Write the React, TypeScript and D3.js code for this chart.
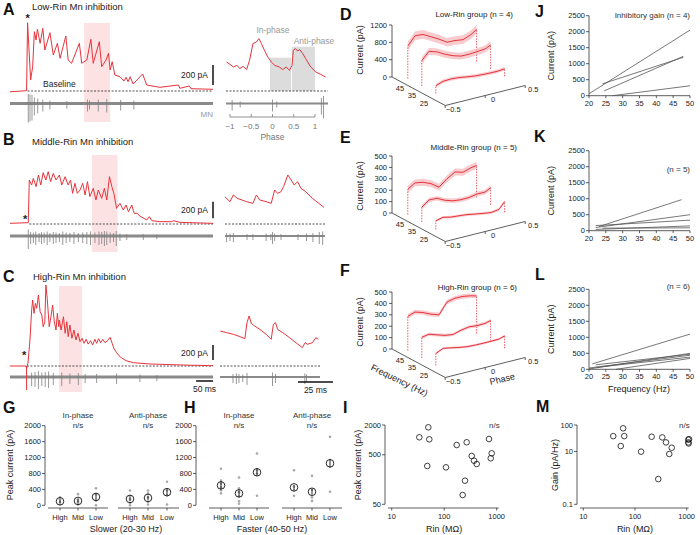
import React from "react";
import * as d3 from "d3";

const FONT = "'Liberation Sans', Arial, Helvetica, sans-serif";
const RED = "#e6343c";
const RED_LIGHT = "#f6b9bd";
const PINK = "#fde2e4";
const MNGRAY = "#8a8a8a";
const AX = "#333";

// ---------- A–C main traces: time (ms) and current (pA) ----------
const A_T = [0, 49, 52, 61, 67, 72, 77, 81, 89, 97, 103, 118, 128, 140, 148, 165, 172, 182, 205, 212, 227, 239, 246, 264, 271, 284, 291, 296, 302, 310, 325, 337, 343, 349, 355, 364, 392, 404, 443, 498, 502, 530, 535, 600];
const A_I = [-8, 3, 683, 110, 243, 593, 510, 617, 477, 627, 410, 583, 360, 477, 327, 550, 310, 277, 477, 277, 310, 517, 277, 493, 243, 310, 377, 210, 293, 160, 143, 100, 137, 93, 143, 70, 170, 60, 37, 60, 27, 50, 23, 17];
const B_T = [0, 54, 57, 64, 69, 77, 84, 91, 98, 106, 113, 120, 128, 136, 146, 153, 163, 172, 179, 185, 192, 199, 207, 215, 222, 229, 236, 246, 254, 261, 271, 279, 286, 294, 301, 307, 315, 325, 335, 343, 350, 360, 367, 375, 384, 404, 412, 419, 443, 478, 483, 502, 601];
const B_I = [8, 16, 528, 468, 548, 448, 588, 468, 616, 528, 628, 508, 608, 528, 588, 468, 568, 468, 528, 368, 488, 368, 408, 488, 348, 508, 328, 428, 288, 408, 308, 428, 288, 568, 448, 368, 188, 248, 168, 228, 148, 228, 128, 128, 96, 48, 88, 40, 28, 28, 40, 20, 8];
const C_T = [0, 47, 49, 53, 59, 64, 67, 71, 75, 79, 84, 89, 94, 98, 103, 106, 110, 116, 121, 126, 131, 136, 140, 144, 146, 151, 158, 163, 168, 172, 177, 183, 189, 195, 201, 207, 213, 219, 225, 231, 238, 244, 251, 256, 262, 268, 274, 281, 288, 296, 302, 307, 315, 327, 343, 365, 414, 512, 601];
const C_I = [0, 0, -31, 36, 347, 746, 880, 702, 836, 769, 946, 724, 680, 524, 591, 1080, 902, 524, 657, 813, 591, 480, 702, 524, 613, 480, 657, 436, 591, 391, 547, 369, 480, 347, 436, 324, 369, 302, 356, 293, 337, 280, 356, 302, 364, 311, 356, 311, 337, 382, 302, 236, 177, 116, 71, 44, 27, 13, 4];

// insets: phase and current (pA)
const AI_P = [-1.08, -1.0, -0.92, -0.84, -0.77, -0.69, -0.61, -0.54, -0.46, -0.38, -0.32, -0.26, -0.19, -0.11, -0.03, 0.05, 0.16, 0.24, 0.32, 0.4, 0.46, 0.49, 0.54, 0.59, 0.64, 0.71, 0.78, 0.9, 1.02, 1.13, 1.25];
const AI_I = [290, 267, 240, 257, 224, 247, 214, 307, 474, 490, 524, 474, 407, 340, 290, 257, 240, 214, 240, 207, 257, 407, 424, 400, 414, 374, 324, 240, 190, 167, 140];
const BI_P = [-1.12, -1.0, -0.92, -0.83, -0.61, -0.46, -0.38, -0.3, -0.15, -0.03, 0.05, 0.12, 0.2, 0.26, 0.36, 0.44, 0.51, 0.59, 0.67, 0.78, 0.94, 1.09, 1.21];
const BI_I = [327, 268, 348, 308, 268, 248, 348, 288, 268, 248, 408, 368, 388, 448, 588, 528, 468, 508, 428, 388, 308, 248, 200];
const CI_P = [-1.23, -1.08, -0.92, -0.77, -0.65, -0.6, -0.55, -0.5, -0.42, -0.3, -0.15, -0.03, 0.02, 0.07, 0.12, 0.24, 0.4, 0.55, 0.7, 0.77, 0.82, 0.94, 1.02, 1.08];
const CI_I = [467, 445, 423, 392, 365, 579, 667, 569, 533, 489, 423, 356, 556, 579, 489, 445, 378, 311, 245, 311, 289, 311, 378, 356];

// shaded windows (ms) and inset phase boxes
const SHADE_A = [219, 296];
const SHADE_B = [242, 318];
const SHADE_C = [145, 213];
const BOX_P0 = [-0.06, 0.46];
const BOX_P1 = [0.44, 1.0];
const BOX_PA = [333, 443];
const PHASE_TICKS = [-1, -0.5, 0, 0.5, 1];

// MN spikes: time (ms) / phase and amplitude (a.u.)
const MN_A_T = [54, 59, 65, 72, 82, 97, 118, 168, 229, 235, 261, 286, 327, 366];
const MN_A_AMP = [190, 180, 170, 120, 100, 80, 60, 50, 80, 60, 80, 90, 70, 60];
const MN_B_T = [54, 61, 69, 76, 86, 93, 101, 110, 118, 128, 136, 146, 156, 166, 177, 189, 202, 215, 227, 238, 251, 263, 271, 279, 286, 296, 306, 314, 325, 345, 394, 434];
const MN_B_AMP = [130, 80, 70, 90, 60, 80, 70, 90, 60, 80, 70, 60, 90, 70, 60, 80, 60, 70, 80, 90, 70, 90, 80, 100, 90, 70, 60, 100, 50, 40, 40, 30];
const MN_C_T = [64, 74, 84, 94, 104, 114, 128, 153, 177, 202, 222, 256, 315, 384, 434];
const MN_C_AMP = [90, 100, 120, 90, 100, 110, 80, 90, 70, 80, 60, 60, 70, 50, 40];
const MNI_A_P = [-0.95, -0.76, 0.0, 0.1, 1.15, 1.2];
const MNI_A_AMP = [70, 40, 80, 40, 110, 150];
const MNI_B_P = [-1.08, -1.0, -0.92, -0.6, -0.46, -0.15, -0.04, 0.0, 0.05, 0.2, 0.6, 0.8, 0.95, 1.1, 1.18];
const MNI_B_AMP = [60, 50, 60, 40, 40, 50, 40, 80, 50, 40, 40, 50, 60, 80, 90];
const MNI_C_P = [-0.93, -0.85, -0.79, -0.7, -0.6, 0.0, 0.07, 0.76, 0.8];
const MNI_C_AMP = [60, 70, 60, 50, 80, 90, 60, 70, 50];

// ---------- D–F 3D phase/frequency surfaces ----------
const PHASES = [-0.39, -0.3, -0.2, -0.1, 0, 0.1, 0.2, 0.3, 0.4, 0.47];
const FREQS = [45, 35, 25];
const D_45 = [750, 945, 930, 830, 730, 612, 605, 578, 650, 740];
const D_35 = [586, 760, 700, 600, 520, 465, 462, 475, 492, 550];
const D_25 = [180, 240, 250, 235, 205, 180, 168, 160, 160, 175];
const E_45 = [222, 262, 250, 220, 172, 228, 270, 250, 272, 280];
const E_35 = [130, 178, 175, 140, 118, 110, 112, 125, 124, 150];
const E_25 = [77, 92, 76, 70, 63, 50, 38, 28, 38, 95];
const F_45 = [300, 322, 300, 268, 245, 340, 356, 354, 342, 328];
const F_35 = [182, 193, 170, 148, 138, 158, 170, 163, 165, 178];
const F_25 = [105, 135, 122, 108, 97, 93, 92, 92, 93, 110];
const D_SEM = [100, 80, 40];
const E_SEM = [30, 20, 12];
const F_SEM = [20, 14, 10];
const D_TICKS = [0, 400, 800, 1200];
const EF_TICKS = [0, 100, 200, 300, 400, 500];

// ---------- J–L inhibitory gain lines ----------
const J_F0 = [20, 24, 24.5, 27];
const J_C0 = [60, 370, 150, 0];
const J_F1 = [50, 48, 48, 50];
const J_C1 = [2050, 1200, 1230, 310];
const K_F0 = [23, 22, 22, 22, 24];
const K_C0 = [130, 100, 160, 40, 80];
const K_F1 = [47.5, 50, 50, 50, 50];
const K_C1 = [970, 500, 330, 150, 90];
const L_F0 = [21, 20, 20, 22, 22, 28];
const L_C0 = [170, 10, 40, 60, 140, 0];
const L_F1 = [50, 50, 50, 50, 50, 50];
const L_C1 = [1100, 500, 440, 380, 470, 340];
const GAIN_YTICKS = [0, 500, 1000, 1500, 2000, 2500];
const GAIN_XTICKS = [20, 25, 30, 35, 40, 45, 50];

// ---------- G–H peak current ----------
const GROUPS = ["High", "Mid", "Low"];
const PEAK_TICKS = [0, 400, 800, 1200, 1600, 2000];
const G_IN_MEAN = [100, 110, 210];
const G_IN_SEM = [40, 45, 70];
const G_IN_DOTS = [[200, 150, 80, 30], [280, 150, 60, 20, 100], [430, 280, 120, 0]];
const G_AN_MEAN = [160, 185, 330];
const G_AN_SEM = [50, 55, 70];
const G_AN_DOTS = [[370, 230, 150, 60, 0], [370, 300, 200, 90, 20], [590, 380, 250, 20]];
const H_IN_MEAN = [500, 300, 830];
const H_IN_SEM = [90, 80, 90];
const H_IN_DOTS = [[920, 620, 540, 450, 380, 300], [700, 430, 330, 220, 100, 40], [1300, 880, 800, 240]];
const H_AN_MEAN = [450, 340, 1055];
const H_AN_SEM = [60, 70, 110];
const H_AN_DOTS = [[880, 470, 380, 240], [740, 390, 200, 110], [1720, 340]];

// ---------- I–M vs Rin ----------
const I_RIN = [33.6, 49.8, 52, 47.6, 108, 173, 268, 334, 370, 416, 249, 225, 713, 769, 803];
const I_PEAK = [1130, 1795, 1028, 297, 279, 788, 895, 473, 380, 326, 150, 77, 1042, 425, 536];
const M_RIN = [38, 59, 62, 53, 131, 210, 337, 398, 513, 460, 282, 1070, 1075, 1090, 1110];
const M_GAIN = [38, 75, 38, 16, 9.8, 36, 34, 22, 13.8, 8, 0.9, 28, 22, 20, 29];
const I_YTICKS = [50, 500, 2000];
const M_YTICKS = [0.1, 10, 100];
const RIN_TICKS = [10, 100, 1000];

// ---------- scales ----------
const xMain = d3.scaleLinear().domain([0, 600]).range([10, 213]);
const xInset = d3.scaleLinear().domain([-1, 1]).range([230, 315]);
const INSET_MS_PER_PHASE = 30.4;
const yA = d3.scaleLinear().domain([0, 700]).range([91, 21]);
const yB = d3.scaleLinear().domain([0, 600]).range([224, 174]);
const yC = d3.scaleLinear().domain([0, 1000]).range([366, 291]);
const MN_PX = 0.1;

const line = d3.line<[number, number]>().x((d) => d[0]).y((d) => d[1]);

function Spikes({ xs, amps, y0, color = "#7d7d7d" }: any) {
  return (
    <g stroke={color} strokeWidth={0.8}>
      {xs.map((x: number, k: number) => (
        <line key={k} x1={x} x2={x} y1={y0 - amps[k] * MN_PX * 0.5} y2={y0 + amps[k] * MN_PX} />
      ))}
    </g>
  );
}

function TracePanel(p: any) {
  const { t, i, y, shade, shadeTop, shadeBottom, mnY, mnT, mnAmp, ip, ii, mniP, mniAmp, dashT, inX0, inX1, bar0, starT, starPA, boxes } = p;
  const base = y(0);
  const main = line(t.map((tt: number, k: number) => [xMain(tt), y(i[k])] as [number, number]));
  const inset = line(ip.map((pp: number, k: number) => [xInset(pp), y(ii[k])] as [number, number]));
  return (
    <g>
      <rect x={xMain(shade[0])} y={shadeTop} width={xMain(shade[1]) - xMain(shade[0])} height={shadeBottom - shadeTop} fill={PINK} />
      {boxes &&
        BOX_P0.map((p0, k) => (
          <rect key={k} x={xInset(p0)} y={y(BOX_PA[k])} width={xInset(BOX_P1[k]) - xInset(p0)} height={base - y(BOX_PA[k])} fill="#dcdcdc" />
        ))}
      <line x1={xMain(dashT)} x2={xMain(600)} y1={base} y2={base} stroke="#222" strokeWidth={0.8} strokeDasharray="2,1.5" />
      <line x1={inX0} x2={inX1} y1={base} y2={base} stroke="#222" strokeWidth={0.8} strokeDasharray="2,1.5" />
      <line x1={10} x2={213} y1={mnY} y2={mnY} stroke={MNGRAY} strokeWidth={3} />
      <line x1={inX0} x2={inX1} y1={mnY} y2={mnY} stroke={MNGRAY} strokeWidth={2} />
      <Spikes xs={mnT.map((tt: number) => xMain(tt))} amps={mnAmp} y0={mnY} />
      <Spikes xs={mniP.map((pp: number) => xInset(pp))} amps={mniAmp} y0={mnY} />
      <path d={main || ""} fill="none" stroke={RED} strokeWidth={1} />
      <path d={inset || ""} fill="none" stroke={RED} strokeWidth={1} />
      <line x1={213} x2={213} y1={y(bar0)} y2={y(bar0 + 200)} stroke="#111" strokeWidth={1.5} />
      <text x={208} y={(y(bar0) + y(bar0 + 200)) / 2 + 3} textAnchor="end" fontSize={8.5} fill="#222">200 pA</text>
      <text x={xMain(starT)} y={y(starPA) + 5} textAnchor="middle" fontSize={11} fontWeight="bold" fill="#222">*</text>
    </g>
  );
}

function Surface(p: any) {
  const { oy, k, ticks, data, sems } = p;
  const proj = (ph: number, f: number, c: number): [number, number] => [
    392 + (ph + 0.5) * 80 + (50 - f) * 1.4,
    oy - (ph + 0.5) * 20 + (50 - f) * 0.75 - c * k,
  ];
  const back = proj(-0.5, 50, 0);
  const corner = proj(-0.5, 12, 0);
  const end = proj(0.5, 12, 0);
  const top = ticks[ticks.length - 1];
  return (
    <g>
      <line x1={392} x2={392} y1={oy} y2={oy - top * k} stroke={AX} strokeWidth={0.8} />
      {ticks.map((v: number) => (
        <g key={v}>
          <line x1={389} x2={392} y1={oy - v * k} y2={oy - v * k} stroke={AX} strokeWidth={0.8} />
          <text x={387} y={oy - v * k + 2.6} textAnchor="end" fontSize={7.5} fill="#222">{v}</text>
        </g>
      ))}
      <line x1={back[0]} y1={back[1]} x2={corner[0]} y2={corner[1]} stroke={AX} strokeWidth={0.8} />
      <line x1={corner[0]} y1={corner[1]} x2={end[0]} y2={end[1]} stroke={AX} strokeWidth={0.8} />
      {FREQS.map((f) => {
        const q = proj(-0.5, f, 0);
        return (
          <text key={f} x={q[0] + 1 - (45 - f) * 0.2} y={q[1] + 10} textAnchor="middle" fontSize={7.5} fill="#222">{f}</text>
        );
      })}
      {[-0.5, 0, 0.5].map((ph) => {
        const q = proj(ph, 12, 0);
        return (
          <g key={ph}>
            <line x1={q[0]} x2={q[0]} y1={q[1]} y2={q[1] + 2.5} stroke={AX} strokeWidth={0.8} />
            <text x={q[0] + 8} y={q[1] + 6} textAnchor="middle" fontSize={7.5} fill="#222">{ph === -0.5 ? "−0.5" : ph}</text>
          </g>
        );
      })}
      {FREQS.map((f, s) => {
        const vals: number[] = data[s];
        const up = PHASES.map((ph, j) => proj(ph, f, vals[j] + sems[s]));
        const lo = PHASES.map((ph, j) => proj(ph, f, Math.max(0, vals[j] - sems[s]))).reverse();
        const mid = PHASES.map((ph, j) => proj(ph, f, vals[j]));
        const n = PHASES.length - 1;
        const b0 = proj(PHASES[0], f, 0);
        const b1 = proj(PHASES[n], f, 0);
        return (
          <g key={f}>
            <path d={(line([...up, ...lo]) || "") + "Z"} fill={RED_LIGHT} opacity={0.75} />
            <path d={line(mid) || ""} fill="none" stroke={RED} strokeWidth={1} />
            <line x1={b0[0]} y1={b0[1]} x2={mid[0][0]} y2={mid[0][1]} stroke={RED} strokeWidth={0.8} strokeDasharray="1.5,1.2" />
            <line x1={b1[0]} y1={b1[1]} x2={mid[n][0]} y2={mid[n][1]} stroke={RED} strokeWidth={0.8} strokeDasharray="1.5,1.2" />
          </g>
        );
      })}
      <text transform={`translate(363,${oy - 27}) rotate(-90)`} textAnchor="middle" fontSize={9} fill="#222">Current (pA)</text>
    </g>
  );
}

function GainPanel({ oy, f0, c0, f1, c1, showX }: any) {
  const xs = d3.scaleLinear().domain([20, 50]).range([589, 690]);
  const ys = d3.scaleLinear().domain([0, 2500]).range([oy, oy - 80]);
  return (
    <g>
      <line x1={589} x2={589} y1={ys(0)} y2={ys(2500)} stroke={AX} strokeWidth={0.8} />
      <line x1={589} x2={690} y1={oy} y2={oy} stroke={AX} strokeWidth={0.8} />
      {GAIN_YTICKS.map((v) => (
        <g key={v}>
          <line x1={586} x2={589} y1={ys(v)} y2={ys(v)} stroke={AX} strokeWidth={0.8} />
          <text x={585} y={ys(v) + 2.6} textAnchor="end" fontSize={7.5} fill="#222">{v}</text>
        </g>
      ))}
      {GAIN_XTICKS.map((v) => (
        <g key={v}>
          <line x1={xs(v)} x2={xs(v)} y1={oy} y2={oy + 2.5} stroke={AX} strokeWidth={0.8} />
          <text x={xs(v)} y={oy + 10} textAnchor="middle" fontSize={7.5} fill="#222">{v}</text>
        </g>
      ))}
      {f0.map((f: number, k: number) => (
        <line key={k} x1={xs(f)} y1={ys(c0[k])} x2={xs(f1[k])} y2={ys(c1[k])} stroke="#555" strokeWidth={0.8} />
      ))}
      <text transform={`translate(554,${oy - 40}) rotate(-90)`} textAnchor="middle" fontSize={9} fill="#222">Current (pA)</text>
      {showX && <text x={639} y={oy + 23} textAnchor="middle" fontSize={9} fill="#222">Frequency (Hz)</text>}
    </g>
  );
}

const yPeak = d3.scaleLinear().domain([0, 2000]).range([505.3, 425.7]);

function PeakAxis({ x }: any) {
  return (
    <g>
      <line x1={x} x2={x} y1={yPeak(0)} y2={yPeak(2000)} stroke={AX} strokeWidth={0.8} />
      {PEAK_TICKS.map((v) => (
        <g key={v}>
          <line x1={x - 3} x2={x} y1={yPeak(v)} y2={yPeak(v)} stroke={AX} strokeWidth={0.8} />
          <text x={x - 4} y={yPeak(v) + 2.6} textAnchor="end" fontSize={7.5} fill="#222">{v}</text>
        </g>
      ))}
    </g>
  );
}

function DotGroup({ xs, means, sems, dots, title }: any) {
  return (
    <g>
      <text x={xs[1]} y={418} textAnchor="middle" fontSize={8} fill="#333">{title}</text>
      <text x={xs[1]} y={428} textAnchor="middle" fontSize={8} fill="#333">n/s</text>
      <line x1={xs[0] - 12} x2={xs[2] + 12} y1={508} y2={508} stroke={AX} strokeWidth={0.8} />
      {xs.map((x: number, k: number) => (
        <g key={k}>
          <line x1={x} x2={x} y1={508} y2={510.5} stroke={AX} strokeWidth={0.8} />
          <text x={x} y={520} textAnchor="middle" fontSize={7.5} fill="#222">{GROUPS[k]}</text>
          {dots[k].map((v: number, j: number) => (
            <circle key={j} cx={x} cy={yPeak(v)} r={1.3} fill="#a8a8a8" />
          ))}
          <line x1={x} x2={x} y1={yPeak(means[k] - sems[k])} y2={yPeak(means[k] + sems[k])} stroke="#111" strokeWidth={0.9} />
          <circle cx={x} cy={yPeak(means[k])} r={3.8} fill="none" stroke="#111" strokeWidth={0.9} />
        </g>
      ))}
    </g>
  );
}

function LogPanel({ axX, x0, x1, yDom, yTicks, rin, vals, ylabel, labX, tickFmt }: any) {
  const xs = d3.scaleLog().domain([10, 1000]).range([x0, x1]);
  const ys = d3.scaleLog().domain(yDom).range([504.3, 425]);
  return (
    <g>
      <line x1={axX} x2={axX} y1={504.3} y2={425} stroke={AX} strokeWidth={0.8} />
      {yTicks.map((v: number) => (
        <g key={v}>
          <line x1={axX - 3} x2={axX} y1={ys(v)} y2={ys(v)} stroke={AX} strokeWidth={0.8} />
          <text x={axX - 4} y={ys(v) + 2.6} textAnchor="end" fontSize={7.5} fill="#222">{tickFmt(v)}</text>
        </g>
      ))}
      <line x1={axX + 3} x2={x1 + 2} y1={508} y2={508} stroke={AX} strokeWidth={0.8} />
      {RIN_TICKS.map((v) => (
        <g key={v}>
          <line x1={xs(v)} x2={xs(v)} y1={508} y2={510.5} stroke={AX} strokeWidth={0.8} />
          <text x={xs(v)} y={519} textAnchor="middle" fontSize={7.5} fill="#222">{v}</text>
        </g>
      ))}
      {rin.map((r: number, k: number) => (
        <circle key={k} cx={xs(r)} cy={ys(vals[k])} r={2.8} fill="none" stroke="#111" strokeWidth={0.8} />
      ))}
      <text x={(x0 + x1) / 2} y={532} textAnchor="middle" fontSize={9} fill="#222">Rin (MΩ)</text>
      <text transform={`translate(${labX},465) rotate(-90)`} textAnchor="middle" fontSize={9} fill="#222">{ylabel}</text>
      <text x={x1 + 3} y={428} textAnchor="end" fontSize={8} fill="#333">n/s</text>
    </g>
  );
}

const LETTERS: [string, number, number][] = [
  ["A", 3, 15], ["B", 3, 145], ["C", 3, 282], ["D", 340, 20], ["E", 340, 143], ["F", 340, 276],
  ["G", 3, 413], ["H", 184, 413], ["I", 343, 413], ["J", 535, 17], ["K", 534, 142], ["L", 535, 280], ["M", 536, 412],
];

export default function App() {
  const fmtLog = (v: number) => String(v);
  return (
    <svg width={700} height={535} style={{ position: "absolute", left: 0, top: 0, background: "#fff" }} fontFamily={FONT}>
      {LETTERS.map(([s, x, y]) => (
        <text key={s} x={x} y={y} fontSize={16} fontWeight="bold" fill="#111">{s}</text>
      ))}
      <text x={32} y={10} fontSize={9.5} fill="#222">Low-Rin Mn inhibition</text>
      <text x={32} y={145} fontSize={9.5} fill="#222">Middle-Rin Mn inhibition</text>
      <text x={33} y={280} fontSize={9.5} fill="#222">High-Rin Mn inhibition</text>

      <TracePanel t={A_T} i={A_I} y={yA} shade={SHADE_A} shadeTop={23} shadeBottom={122} mnY={103.5} mnT={MN_A_T} mnAmp={MN_A_AMP}
        ip={AI_P} ii={AI_I} mniP={MNI_A_P} mniAmp={MNI_A_AMP} dashT={52} inX0={226} inX1={328} bar0={60} starT={52} starPA={740} boxes />
      <text x={43} y={87} fontSize={8.5} fill="#222">Baseline</text>
      <text x={213} y={117} textAnchor="end" fontSize={8} fill="#999">MN</text>
      <text x={273} y={33} textAnchor="middle" fontSize={8.5} fill="#999">In-phase</text>
      <text x={314} y={44} textAnchor="middle" fontSize={8.5} fill="#999">Anti-phase</text>
      <line x1={xInset(-1)} x2={xInset(1)} y1={117} y2={117} stroke="#777" strokeWidth={0.8} />
      {PHASE_TICKS.map((v) => (
        <g key={v}>
          <line x1={xInset(v)} x2={xInset(v)} y1={114} y2={117} stroke="#777" strokeWidth={0.8} />
          <text x={xInset(v)} y={129} textAnchor="middle" fontSize={8} fill="#777">{v < 0 ? "−" + Math.abs(v) : v}</text>
        </g>
      ))}
      <text x={xInset(0)} y={140} textAnchor="middle" fontSize={8.5} fill="#777">Phase</text>

      <TracePanel t={B_T} i={B_I} y={yB} shade={SHADE_B} shadeTop={155} shadeBottom={252} mnY={236} mnT={MN_B_T} mnAmp={MN_B_AMP}
        ip={BI_P} ii={BI_I} mniP={MNI_B_P} mniAmp={MNI_B_AMP} dashT={57} inX0={225} inX1={325} bar0={68} starT={45} starPA={70} />

      <TracePanel t={C_T} i={C_I} y={yC} shade={SHADE_C} shadeTop={286} shadeBottom={392} mnY={377} mnT={MN_C_T} mnAmp={MN_C_AMP}
        ip={CI_P} ii={CI_I} mniP={MNI_C_P} mniAmp={MNI_C_AMP} dashT={50} inX0={220} inX1={320} bar0={80} starT={42} starPA={160} />
      <line x1={xMain(49)} x2={xMain(49)} y1={366} y2={390} stroke={RED} strokeWidth={1} />
      <line x1={xMain(550)} x2={xMain(600)} y1={381} y2={381} stroke="#111" strokeWidth={1.5} />
      <text x={xMain(575)} y={392} textAnchor="middle" fontSize={8.5} fill="#222">50 ms</text>
      <line x1={xInset(0.6)} x2={xInset(0.6 + 25 / INSET_MS_PER_PHASE)} y1={382} y2={382} stroke="#111" strokeWidth={1.5} />
      <text x={xInset(0.6 + 12.5 / INSET_MS_PER_PHASE)} y={393} textAnchor="middle" fontSize={8.5} fill="#222">25 ms</text>

      <Surface oy={77} k={52 / 1200} ticks={D_TICKS} data={[D_45, D_35, D_25]} sems={D_SEM} />
      <text x={513} y={17} textAnchor="end" fontSize={8} fill="#222">Low-Rin group (n = 4)</text>
      <Surface oy={213} k={57 / 500} ticks={EF_TICKS} data={[E_45, E_35, E_25]} sems={E_SEM} />
      <text x={517} y={150} textAnchor="end" fontSize={8} fill="#222">Middle-Rin group (n = 5)</text>
      <Surface oy={349} k={57 / 500} ticks={EF_TICKS} data={[F_45, F_35, F_25]} sems={F_SEM} />
      <text x={517} y={290} textAnchor="end" fontSize={8} fill="#222">High-Rin group (n = 6)</text>
      <text transform="translate(398,383) rotate(26)" textAnchor="middle" fontSize={9} fill="#222">Frequency (Hz)</text>
      <text transform="translate(503,382) rotate(-14)" textAnchor="middle" fontSize={9} fill="#222">Phase</text>

      <GainPanel oy={95.7} f0={J_F0} c0={J_C0} f1={J_F1} c1={J_C1} />
      <text x={690} y={18} textAnchor="end" fontSize={8} fill="#333">Inhibitory gain (n = 4)</text>
      <GainPanel oy={230.7} f0={K_F0} c0={K_C0} f1={K_F1} c1={K_C1} />
      <text x={690} y={172} textAnchor="end" fontSize={8} fill="#333">(n = 5)</text>
      <GainPanel oy={369.3} f0={L_F0} c0={L_C0} f1={L_F1} c1={L_C1} showX />
      <text x={690} y={289} textAnchor="end" fontSize={8} fill="#333">(n = 6)</text>

      <PeakAxis x={45} />
      <DotGroup xs={[60, 78, 96]} means={G_IN_MEAN} sems={G_IN_SEM} dots={G_IN_DOTS} title="In-phase" />
      <DotGroup xs={[130, 148, 167]} means={G_AN_MEAN} sems={G_AN_SEM} dots={G_AN_DOTS} title="Anti-phase" />
      <text transform="translate(13,465) rotate(-90)" textAnchor="middle" fontSize={9} fill="#222">Peak current (pA)</text>
      <text x={126} y={532} textAnchor="middle" fontSize={9} fill="#222">Slower (20-30 Hz)</text>
      <PeakAxis x={196} />
      <DotGroup xs={[221, 239, 257]} means={H_IN_MEAN} sems={H_IN_SEM} dots={H_IN_DOTS} title="In-phase" />
      <DotGroup xs={[294, 312, 330]} means={H_AN_MEAN} sems={H_AN_SEM} dots={H_AN_DOTS} title="Anti-phase" />
      <text x={272} y={532} textAnchor="middle" fontSize={9} fill="#222">Faster (40-50 Hz)</text>

      <LogPanel axX={385} x0={391.7} x1={496.7} yDom={[50, 2000]} yTicks={I_YTICKS} rin={I_RIN} vals={I_PEAK} ylabel="Peak current (pA)" labX={361} tickFmt={fmtLog} />
      <LogPanel axX={577} x0={583.3} x1={686.7} yDom={[0.1, 100]} yTicks={M_YTICKS} rin={M_RIN} vals={M_GAIN} ylabel="Gain (pA/Hz)" labX={558} tickFmt={fmtLog} />
    </svg>
  );
}
